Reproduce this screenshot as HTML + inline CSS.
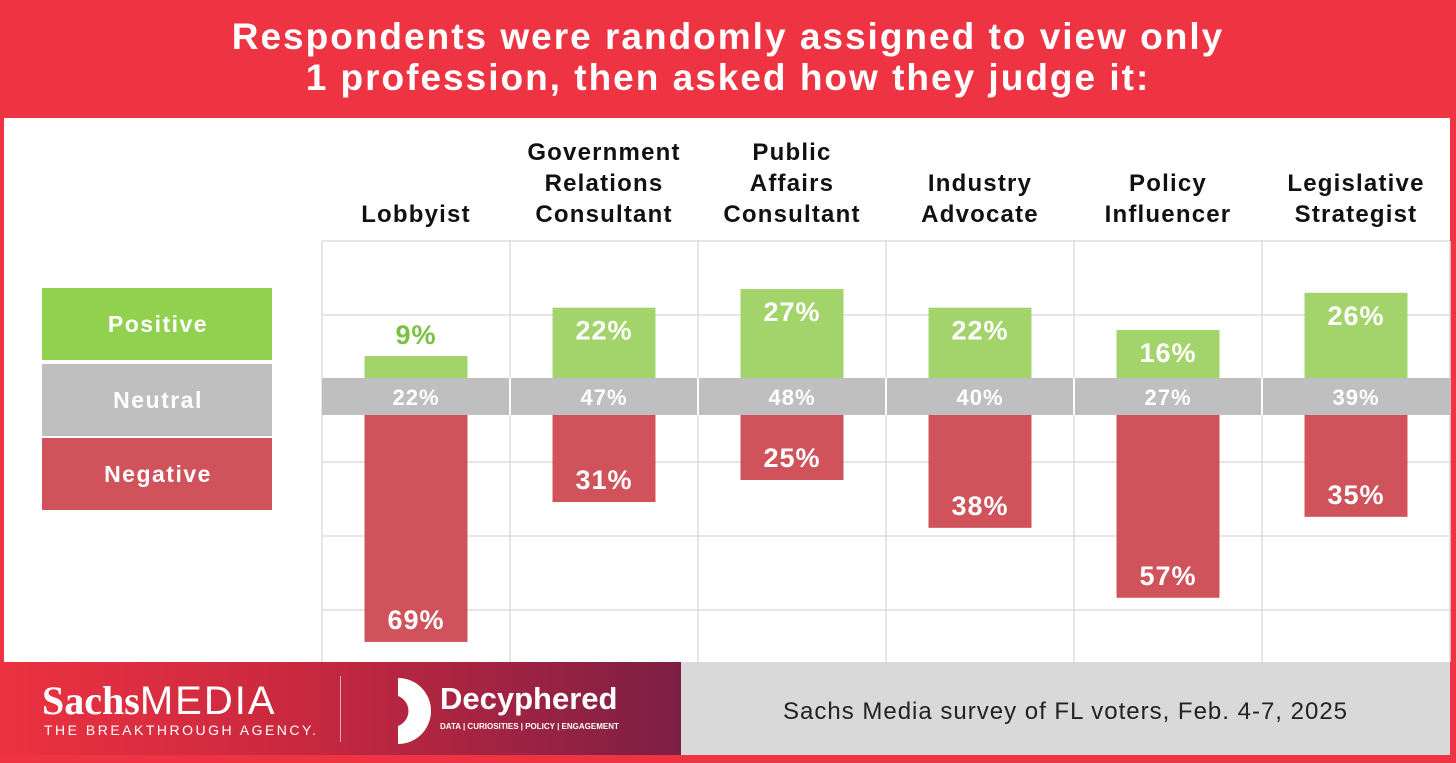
<!DOCTYPE html>
<html><head><meta charset="utf-8">
<style>
body{margin:0;width:1456px;height:763px;overflow:hidden;background:#ee3342;font-family:"Liberation Sans",sans-serif;}
#page{position:relative;width:1456px;height:763px;}
.abs{position:absolute;}
</style></head>
<body>
<div id="page">
<div class="abs" style="left:0;top:0;width:1456px;height:118px;background:#ee3342;"></div>
<div class="abs" style="left:0;top:16px;width:1456px;text-align:center;color:#fff;font-weight:bold;font-size:37px;letter-spacing:2px;line-height:41px;">Respondents were randomly assigned to view only<br>1 profession, then asked how they judge it:</div>
<div class="abs" style="left:4px;top:118px;width:1446px;height:544px;background:#fff;"></div>
<svg id="chart" class="abs" style="left:0;top:0" width="1456" height="763"></svg>
<div class="abs" style="left:0;top:662px;width:681px;height:93px;background:linear-gradient(90deg,#ec3240,#c8283f 45%,#7c1f44);"></div>
<div class="abs" style="left:681px;top:662px;width:769px;height:93px;background:#d9d9d9;"></div>
<div class="abs" style="left:681px;top:698px;width:769px;text-align:center;font-size:24px;letter-spacing:1px;color:#222;">Sachs Media survey of FL voters, Feb. 4-7, 2025</div>
<div class="abs" style="left:42px;top:680px;color:#fff;">
 <div style="font-size:40px;line-height:42px;"><span style="font-family:'Liberation Serif',serif;font-weight:bold;">Sachs</span><span style="font-weight:normal;letter-spacing:2px;">MEDIA</span></div>
 <div style="font-size:14px;letter-spacing:2.5px;margin-left:2px;">THE BREAKTHROUGH AGENCY.</div>
</div>
<div class="abs" style="left:340px;top:676px;width:1px;height:66px;background:rgba(255,255,255,0.6);"></div>
<svg class="abs" style="left:392px;top:676px" width="50" height="70"><path d="M6 2 A33 33 0 0 1 6 68 L6 50 A16 16 0 0 0 6 20 Z" fill="#fff"/></svg>
<div class="abs" style="left:440px;top:682px;color:#fff;">
 <div style="font-size:31px;font-weight:bold;line-height:34px;">Decyphered</div>
 <div style="font-size:8px;font-weight:bold;margin-top:6px;">DATA | CURIOSITIES | POLICY | ENGAGEMENT</div>
</div>
</div>
<script>
const categories=["Lobbyist","Government|Relations|Consultant","Public|Affairs|Consultant","Industry|Advocate","Policy|Influencer","Legislative|Strategist"];
const positive=[9,22,27,22,16,26];
const neutral=[22,47,48,40,27,39];
const negative=[69,31,25,38,57,35];
const legendLabels=["Positive","Neutral","Negative"];

const svg=document.getElementById('chart');
const NS="http://www.w3.org/2000/svg";
const X0=322,COLW=188,BARW=103,NTOP=378,NBOT=415;
function colX(i){return X0+i*COLW;}
function posY(v){return NTOP-(3.72*v-11.5);}
function negY(v){return NBOT+(3.68*v-27);}
function mk(tag,attrs,name){const e=document.createElementNS(NS,tag);for(const k in attrs)e.setAttribute(k,attrs[k]);


svg.appendChild(e);return e;}
function txt(x,y,s,size,fill,name,ls){const t=mk('text',{x:x,y:y,'font-size':size,fill:fill,'text-anchor':'middle','font-family':'Liberation Sans, sans-serif','font-weight':'bold','letter-spacing':ls||1},name);t.textContent=s;return t;}
[241,315,462,536,610].forEach(y=>mk('line',{x1:322,x2:1450,y1:y,y2:y,stroke:'#dedede','stroke-width':1.5},'gridline'));
for(let i=0;i<=6;i++)mk('line',{x1:colX(i),x2:colX(i),y1:241,y2:662,stroke:'#dedede','stroke-width':1.5},'column-divider');
mk('rect',{x:322,y:NTOP,width:1128,height:NBOT-NTOP,fill:'#bfbfbf'},'neutral-band');
categories.forEach((c,i)=>{
 const cx=colX(i)+COLW/2, bx=cx-BARW/2;
 const lines=c.split('|');
 lines.forEach((l,j)=>txt(cx,222-(lines.length-1-j)*31,l,24,'#111','category-label',1.2));
 const py=posY(positive[i]);
 mk('rect',{x:bx,y:py,width:BARW,height:NTOP-py,fill:'#a3d46c'},'positive-bar');
 if(NTOP-py<40) txt(cx,py-12,positive[i]+'%',27,'#7ac142','positive-value');
 else txt(cx,py+32,positive[i]+'%',27,'#fff','positive-value');
 if(i>0) mk('line',{x1:colX(i),x2:colX(i),y1:NTOP,y2:NBOT,stroke:'#fff','stroke-width':2},'neutral-divider');
 txt(cx,NTOP+27,neutral[i]+'%',22,'#fff','neutral-value');
 const ny=negY(negative[i]);
 mk('rect',{x:bx,y:NBOT,width:BARW,height:ny-NBOT,fill:'#d0525a'},'negative-bar');
 txt(cx,ny-13,negative[i]+'%',27,'#fff','negative-value');
});
const legColors=['#92d050','#bfbfbf','#d0525a'];
const legY=[288,364,438];
legendLabels.forEach((l,i)=>{
 mk('rect',{x:42,y:legY[i],width:230,height:72,fill:legColors[i]},'legend-swatch');
 txt(158,legY[i]+44,l,23,'#fff','legend-entry',1.5);
});
</script>
</body></html>
